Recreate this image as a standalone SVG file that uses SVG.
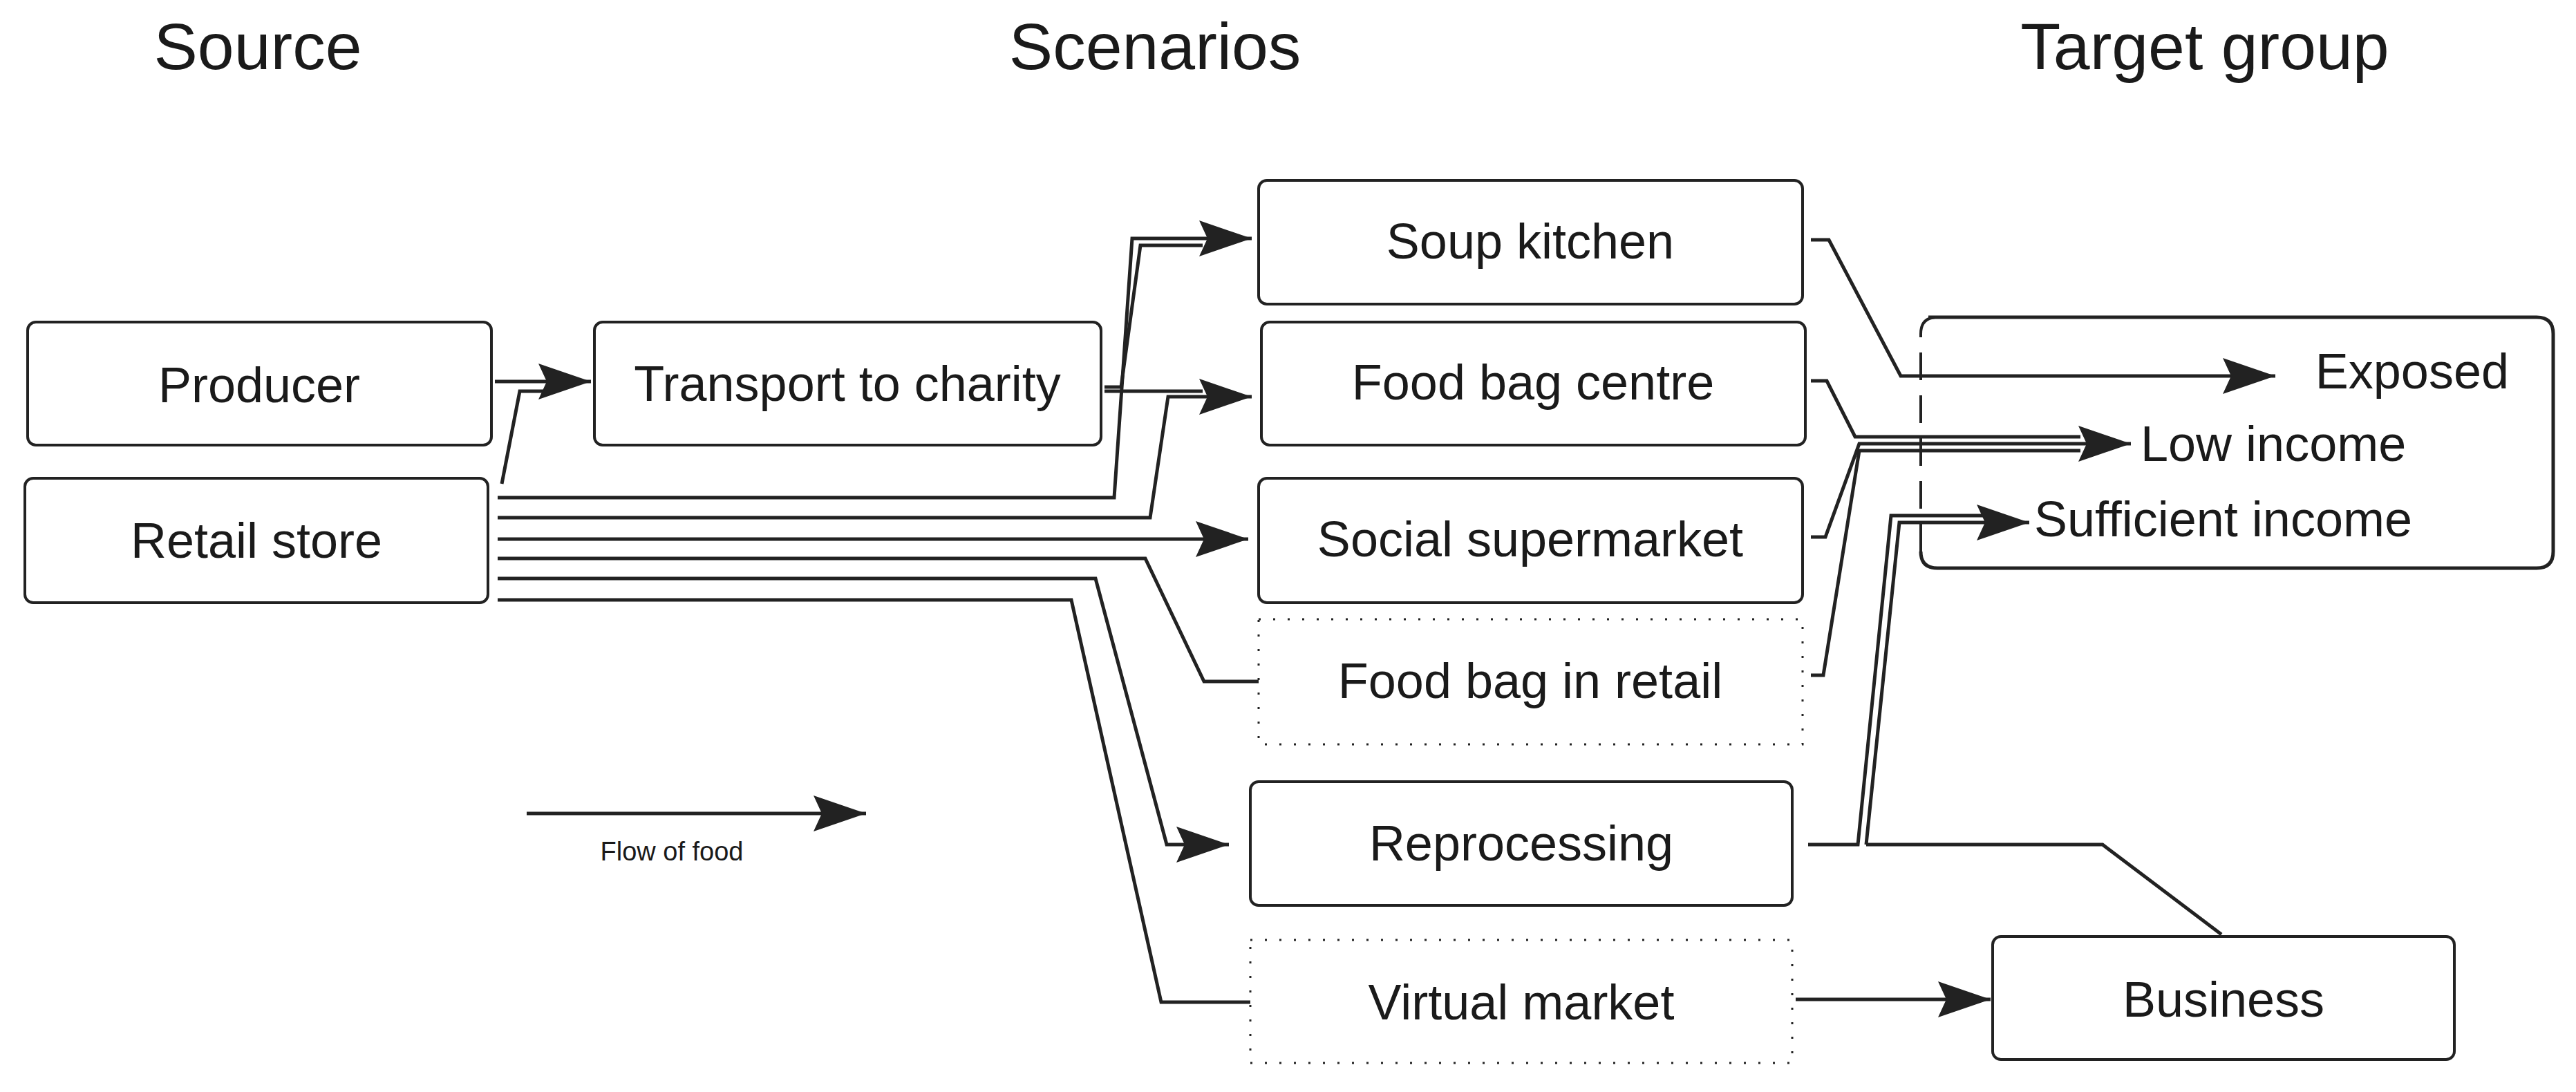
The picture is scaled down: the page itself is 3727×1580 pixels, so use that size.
<svg xmlns="http://www.w3.org/2000/svg" width="3727" height="1580" viewBox="0 0 3727 1580">
<style>
text{font-family:"Liberation Sans",Arial,sans-serif;fill:#1a1a1a}
.t{font-size:95px;text-anchor:middle}
.l{font-size:72px;text-anchor:middle;dominant-baseline:central}
.box{fill:#fff;stroke:#222;stroke-width:4}
.dot{fill:#fff;stroke:#222;stroke-width:3;stroke-dasharray:3 18}
.c{fill:none;stroke:#222;stroke-width:5}
</style>
<defs>
<marker id="a" markerUnits="userSpaceOnUse" markerWidth="80" markerHeight="56" refX="76" refY="26" orient="auto">
<path d="M0,0 L76,26 L0,52 L12,26 z" fill="#222"/>
</marker>
</defs>
<text class="t" x="373" y="100">Source</text>
<text class="t" x="1671" y="100">Scenarios</text>
<text class="t" x="3190" y="100">Target group</text>

<g id="target">
<path d="M2790,459 H3670 Q3694,459 3694,483 V798 Q3694,822 3670,822 H2803 Q2779,822 2779,798" fill="#fff" stroke="#222" stroke-width="5"/>
<path d="M2779,798 V483 Q2779,459 2803,459" fill="none" stroke="#222" stroke-width="4" stroke-dasharray="40 22"/>
<text class="l" x="3630" y="537" style="text-anchor:end">Exposed</text>
<text class="l" x="3097" y="642" style="text-anchor:start">Low income</text>
<text class="l" x="2943" y="751" style="text-anchor:start">Sufficient income</text>
</g>
<g id="producer"><rect class="box" x="40" y="466" width="671" height="178" rx="12"/><text class="l" x="375" y="557">Producer</text></g>
<g id="retail"><rect class="box" x="36" y="692" width="670" height="180" rx="12"/><text class="l" x="371" y="782">Retail store</text></g>
<g id="transport"><rect class="box" x="860" y="466" width="733" height="178" rx="12"/><text class="l" x="1226" y="555">Transport to charity</text></g>
<g id="soup"><rect class="box" x="1821" y="261" width="787" height="179" rx="12"/><text class="l" x="2214" y="349">Soup kitchen</text></g>
<g id="fbc"><rect class="box" x="1825" y="466" width="787" height="178" rx="12"/><text class="l" x="2218" y="553">Food bag centre</text></g>
<g id="social"><rect class="box" x="1821" y="692" width="787" height="180" rx="12"/><text class="l" x="2214" y="780">Social supermarket</text></g>
<g id="fbr"><rect class="dot" x="1821" y="896" width="787" height="181"/><text class="l" x="2214" y="985">Food bag in retail</text></g>
<g id="repro"><rect class="box" x="1809" y="1131" width="784" height="179" rx="12"/><text class="l" x="2201" y="1220">Reprocessing</text></g>
<g id="virtual"><rect class="dot" x="1809" y="1360" width="784" height="178"/><text class="l" x="2201" y="1450">Virtual market</text></g>
<g id="business"><rect class="box" x="2883" y="1355" width="668" height="178" rx="12"/><text class="l" x="3217" y="1446">Business</text></g>

<g id="connectors">
<path class="c" d="M716,552 H855" marker-end="url(#a)"/>
<path class="c" d="M726,700 L752,566 H790"/>
<path class="c" d="M720,720 H1612 L1638,345 H1811" marker-end="url(#a)"/>
<path class="c" d="M1598,560 H1622 L1650,355 H1740"/>
<path class="c" d="M720,749 H1664 L1690,574 H1811" marker-end="url(#a)"/>
<path class="c" d="M1598,566 H1740"/>
<path class="c" d="M720,780 H1806" marker-end="url(#a)"/>
<path class="c" d="M720,808 H1657 L1742,986 H1821"/>
<path class="c" d="M720,837 H1585 L1688,1222 H1778" marker-end="url(#a)"/>
<path class="c" d="M720,868 H1550 L1680,1450 H1809"/>
<path class="c" d="M2620,347 H2646 L2750,544 H3292" marker-end="url(#a)"/>
<path class="c" d="M2620,551 H2643 L2684,632 H3010"/>
<path class="c" d="M2620,777 H2641 L2690,642 H3083" marker-end="url(#a)"/>
<path class="c" d="M2620,977 H2638 L2690,652 H3010"/>
<path class="c" d="M2616,1222 H2688 L2736,746 H2880"/>
<path class="c" d="M2700,1222 L2748,756 H2936" marker-end="url(#a)"/>
<path class="c" d="M2700,1222 H3042 L3214,1352"/>
<path class="c" d="M2598,1446 H2880" marker-end="url(#a)"/>
</g>
<g id="legend">
<path class="c" d="M762,1177 H1253" marker-end="url(#a)"/>
<text x="972" y="1245" style="font-size:38px;text-anchor:middle">Flow of food</text>
</g>
</svg>
